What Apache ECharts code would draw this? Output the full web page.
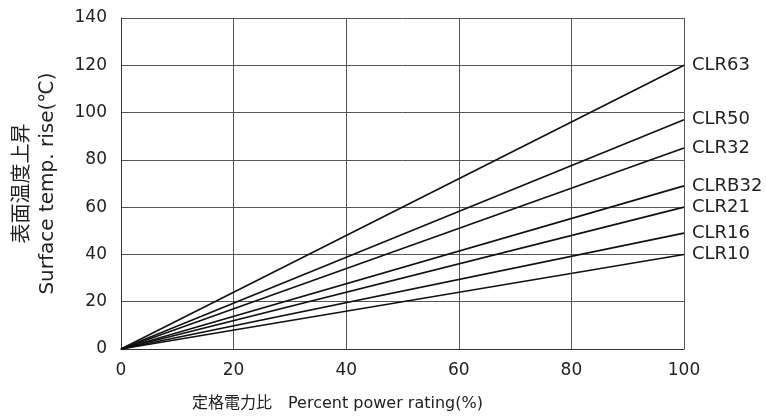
<!DOCTYPE html>
<html><head><meta charset="utf-8">
<script src="https://cdn.jsdelivr.net/npm/echarts@6/dist/echarts.min.js"></script>
<style>html,body{margin:0;padding:0;background:#fff}#c{width:766px;height:416px}</style>
</head><body><div id="c"></div>
<script>
const xValues = [0, 100];
const seriesNames = ['CLR63', 'CLR50', 'CLR32', 'CLRB32', 'CLR21', 'CLR16', 'CLR10'];
const endValues = [120, 97, 85, 69, 60, 49, 40];
const startValues = [0, 0, 0, 0, 0, 0, 0];
const xTicks = [0, 20, 40, 60, 80, 100];
const yTicks = [0, 20, 40, 60, 80, 100, 120, 140];

const FONT = '"DejaVu Sans", sans-serif';
const chart = echarts.init(document.getElementById('c'));
chart.setOption({
  animation: false,
  backgroundColor: '#fff',
  grid: { left: 121, right: 82, top: 18, bottom: 67, containLabel: false },
  xAxis: {
    type: 'value', min: xTicks[0], max: xTicks[xTicks.length - 1], interval: 20,
    axisLine: { lineStyle: { color: '#333', width: 1 } },
    axisTick: { show: false },
    splitLine: { show: true, lineStyle: { color: '#555', width: 1 } },
    axisLabel: { color: '#222', fontSize: 17, fontFamily: FONT, margin: 13 }
  },
  yAxis: {
    type: 'value', min: yTicks[0], max: yTicks[yTicks.length - 1], interval: 20,
    axisLine: { show: true, lineStyle: { color: '#333', width: 1 } },
    axisTick: { show: false },
    splitLine: { show: true, lineStyle: { color: '#555', width: 1 } },
    axisLabel: { color: '#222', fontSize: 17, fontFamily: FONT, margin: 14 },
    name: '表面温度上昇\nSurface temp. rise(℃)',
    nameLocation: 'middle', nameGap: 61,
    nameTextStyle: { color: '#222', fontSize: 20, fontFamily: '"DejaVu Sans", "Noto Sans CJK JP", sans-serif', lineHeight: 25 }
  },
  graphic: [{
    type: 'text', left: 192, top: 396,
    style: { text: '定格電力比　Percent power rating(%)', fill: '#222', font: '16px "DejaVu Sans", "Noto Sans CJK JP", sans-serif' }
  }],
  series: seriesNames.map((n, i) => ({
    name: n, type: 'line', symbol: 'none',
    lineStyle: { color: '#111', width: 1.6 },
    data: xValues.map((x, j) => [x, j === 0 ? startValues[i] : endValues[i]]),
    endLabel: { show: true, formatter: '{a}', color: '#222', fontSize: 18, fontFamily: FONT, distance: 8 }
  }))
});
</script></body></html>
